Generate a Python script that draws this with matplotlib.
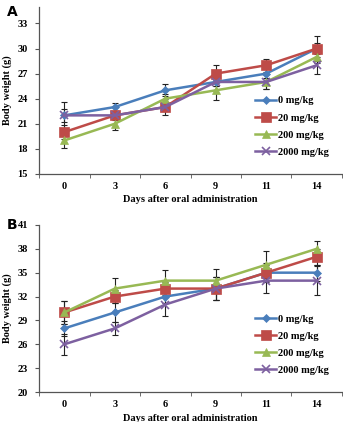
import matplotlib
matplotlib.use("Agg")
import matplotlib.pyplot as plt
import numpy as np

days = ["0", "3", "6", "9", "11", "14"]
series_labels = ["0 mg/kg", "20 mg/kg", "200 mg/kg", "2000 mg/kg"]

# Panel A values
a_0 = [22, 23, 25, 26, 27, 30]
a_20 = [20, 22, 23, 27, 28, 30]
a_200 = [19, 21, 24, 25, 26, 29]
a_2000 = [22, 22, 23, 26, 26, 28]
a_err_0 = [1.6, 0.5, 0.7, 0.5, 0.5, 0.7]
a_err_20 = [0.8, 0.5, 0.9, 1.0, 0.8, 1.5]
a_err_200 = [0.9, 0.8, 0.5, 1.2, 0.9, 0.7]
a_err_2000 = [0.8, 0.4, 0.5, 0.5, 0.9, 1.0]

# Panel B values
b_0 = [28, 30, 32, 33, 35, 35]
b_20 = [30, 32, 33, 33, 35, 37]
b_200 = [30, 33, 34, 34, 36, 38]
b_2000 = [26, 28, 31, 33, 34, 34]
b_err_0 = [0.9, 1.2, 0.8, 1.4, 1.0, 1.0]
b_err_20 = [1.5, 0.8, 0.8, 1.4, 1.2, 1.0]
b_err_200 = [1.5, 1.3, 1.3, 1.5, 1.7, 1.0]
b_err_2000 = [1.3, 0.8, 1.4, 1.4, 1.5, 1.8]

colors = ["#4A7EBB", "#BE4B48", "#98B954", "#7D60A0"]
markers = ["D", "s", "^", "x"]
msizes = [4.5, 6.5, 5.5, 6]

plt.rcParams['font.family'] = ['Liberation Serif', 'DejaVu Serif']
plt.rcParams['font.weight'] = 'bold'

fig = plt.figure(figsize=(3.43, 4.22), dpi=100)

def draw(ax, vals, errs, ylim, yticks, leg_anchor):
    x = np.arange(len(days))
    for v, e in zip(vals, errs):
        ax.errorbar(x, v, yerr=e, fmt='none', ecolor='#222222', elinewidth=0.8,
                    capsize=2, capthick=0.8, zorder=2)
    for v, c, m, ms, lab in zip(vals, colors, markers, msizes, series_labels):
        ax.plot(x, v, color=c, marker=m, markersize=ms, linewidth=1.8,
                markeredgewidth=1.2 if m == 'x' else 0.5, markeredgecolor=c,
                label=lab, zorder=3)
    ax.set_xlim(-0.5, len(days) - 0.5)
    ax.set_ylim(*ylim)
    ax.set_yticks(yticks)
    ax.set_xticks(x)
    ax.set_xticklabels(days)
    ax.set_xticks(np.arange(-0.5, len(days)), minor=True)
    ax.tick_params(axis='x', which='major', length=0, labelsize=7.5, pad=6)
    ax.tick_params(axis='x', which='minor', length=3, color='#555555', direction='out')
    ax.tick_params(axis='y', length=3, color='#555555', labelsize=7.5, pad=5)
    for s in ['top', 'right']:
        ax.spines[s].set_visible(False)
    for s in ['left', 'bottom']:
        ax.spines[s].set_color('#555555')
        ax.spines[s].set_linewidth(0.9)
    ax.set_ylabel("Body weight (g)", fontsize=7.5, fontweight='bold', labelpad=4)
    ax.set_xlabel("Days after oral administration", fontsize=7.5, fontweight='bold', labelpad=3)
    leg = ax.legend(loc='upper left', bbox_to_anchor=leg_anchor, frameon=False,
                    fontsize=7.5, handlelength=2.0, handletextpad=0.2,
                    labelspacing=0.75, borderaxespad=0)
    for t in leg.get_texts():
        t.set_fontweight('bold')

axA = fig.add_axes([0.114, 0.588, 0.883, 0.396])
draw(axA, [a_0, a_20, a_200, a_2000], [a_err_0, a_err_20, a_err_200, a_err_2000],
     (15, 35), np.arange(15, 34, 3), (0.70, 0.49))
axB = fig.add_axes([0.114, 0.071, 0.883, 0.396])
draw(axB, [b_0, b_20, b_200, b_2000], [b_err_0, b_err_20, b_err_200, b_err_2000],
     (20, 41), np.arange(20, 42, 3), (0.70, 0.49))

fig.text(0.02, 0.962, "A", fontsize=10, fontweight='bold', family='DejaVu Sans')
fig.text(0.02, 0.458, "B", fontsize=10, fontweight='bold', family='DejaVu Sans')

fig.savefig("out.png", dpi=100)
